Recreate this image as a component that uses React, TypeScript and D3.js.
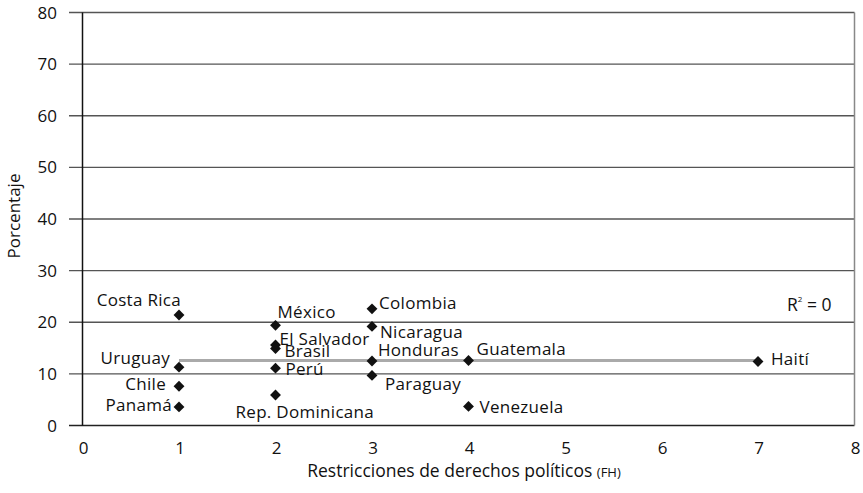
import React from "react";
import * as d3 from "d3";

const countries = ["Costa Rica", "México", "El Salvador", "Brasil", "Uruguay", "Perú", "Chile", "Panamá", "Rep. Dominicana", "Colombia", "Nicaragua", "Honduras", "Paraguay", "Guatemala", "Venezuela", "Haití"];
const restricciones = [1, 2, 2, 2, 1, 2, 1, 1, 2, 3, 3, 3, 3, 4, 4, 7];
const porcentaje = [21.4, 19.4, 15.6, 14.9, 11.3, 11.1, 7.6, 3.6, 5.9, 22.6, 19.2, 12.5, 9.7, 12.6, 3.7, 12.4];
// label placement: [dx, dy, anchor]
const labelPos: [number, number, string][] = [
  [2, -9.5, "end"],
  [2, -7, "start"],
  [4, 0, "start"],
  [9, 8.5, "start"],
  [-9, -3, "end"],
  [10, 7, "start"],
  [-13, 4, "end"],
  [-7, 4, "end"],
  [-40, 23, "start"],
  [7, 0, "start"],
  [8, 12, "start"],
  [6, -5, "start"],
  [13, 15, "start"],
  [8, -5, "start"],
  [11, 7, "start"],
  [13, 4, "start"],
];
const yTicks = [0, 10, 20, 30, 40, 50, 60, 70, 80];
const xTicks = [0, 1, 2, 3, 4, 5, 6, 7, 8];
const trendValue = 12.6;
const trendRange = [1, 7];

export default function App() {
  const W = 863, H = 493;
  const left = 82.5, right = 854.5, top = 12.5, bottom = 425.5;
  const x = d3.scaleLinear().domain([0, 8]).range([left, right]);
  const y = d3.scaleLinear().domain([0, 80]).range([bottom, top]);
  const font = "'Open Sans', sans-serif";
  const diamond = d3.symbol().type(d3.symbolDiamond2).size(75)();
  const fs = 17;
  return (
    <svg width={W} height={H} style={{ position: "absolute", left: 0, top: 0 }} fontFamily={font}>
      <rect width={W} height={H} fill="#fff" />
      {yTicks.map((t) => (
        <line key={"g" + t} x1={69} x2={right} y1={y(t)} y2={y(t)} stroke={t === 0 ? "#222" : "#555"} strokeWidth={t === 0 ? 1.5 : 1.3} />
      ))}
      <line x1={right} x2={right} y1={top} y2={bottom} stroke="#888" strokeWidth={1.5} />
      <line x1={left} x2={left} y1={top} y2={bottom} stroke="#111" strokeWidth={1.5} />
      {yTicks.map((t) => (
        <text key={"yt" + t} x={57} y={y(t)} dy="0.36em" textAnchor="end" fontSize={fs} fill="#111">{t}</text>
      ))}
      {xTicks.map((t) => (
        <text key={"xt" + t} x={x(t) + 1} y={454} textAnchor="middle" fontSize={fs} fill="#111">{t}</text>
      ))}
      <line x1={x(trendRange[0])} x2={x(trendRange[1])} y1={y(trendValue)} y2={y(trendValue)} stroke="#aaa" strokeWidth={3} />
      {countries.map((c, i) => (
        <path key={"p" + c} d={diamond} transform={`translate(${x(restricciones[i])},${y(porcentaje[i])})`} fill="#111" />
      ))}
      {countries.map((c, i) => (
        <text key={"l" + c} x={x(restricciones[i]) + labelPos[i][0]} y={y(porcentaje[i]) + labelPos[i][1]} textAnchor={labelPos[i][2] as any} fontSize={17} fill="#111" letterSpacing={0.3}>{c}</text>
      ))}
      <text x={787} y={311} fontSize={17.5} fill="#111">R<tspan fontSize={8} dy={-9}>2</tspan><tspan dy={9}> = 0</tspan></text>
      <text transform={`translate(20,216) rotate(-90)`} textAnchor="middle" fontSize={fs} fill="#111">Porcentaje</text>
      <text x={464} y={477} textAnchor="middle" fontSize={17.5} fill="#111">Restricciones de derechos políticos <tspan fontSize={13}>(FH)</tspan></text>
    </svg>
  );
}
